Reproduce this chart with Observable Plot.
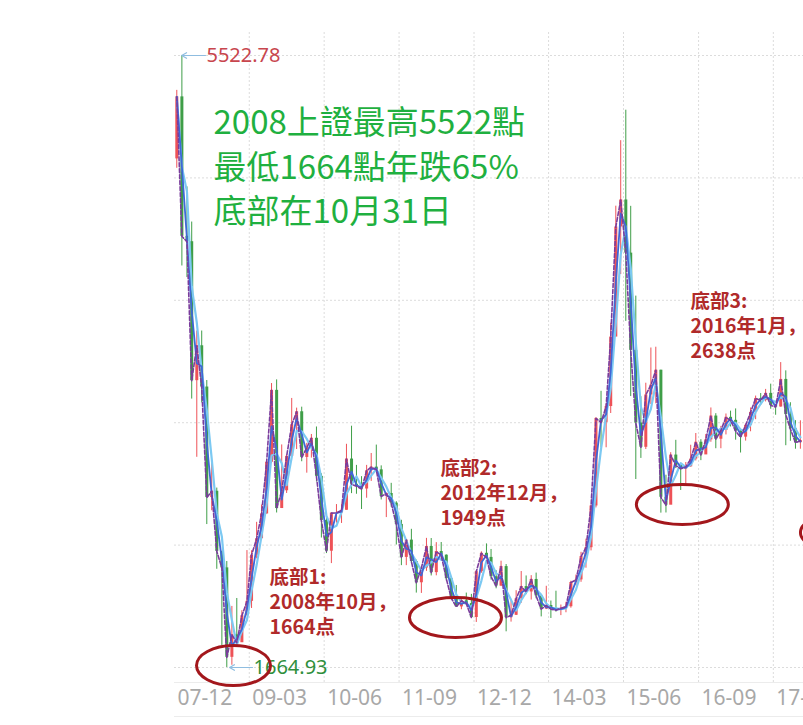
<!DOCTYPE html>
<html>
<head>
<meta charset="utf-8">
<script src="https://cdn.jsdelivr.net/npm/d3@7"></script>
<script src="https://cdn.jsdelivr.net/npm/@observablehq/plot@0.6"></script>
<style>
  html, body { margin: 0; padding: 0; background: #ffffff; }
  #chart { width: 803px; height: 725px; overflow: hidden; }
</style>
</head>
<body>
<div id="chart"></div>
<script>
// ---- Data (Shanghai Composite, monthly) ----
const startMonth = "2007-12";
const firstOpen = 4871;
const closes = [
  5262,
  4383, 4349, 3473, 3693, 3433, 2736, 2776, 2397, 2293, 1729, 1871, 1821,
  1991, 2082, 2373, 2477, 2633, 2959, 3412, 2667, 2779, 2996, 3195, 3277,
  2989, 3051, 3110, 2870, 2592, 2398, 2638, 2639, 2656, 2979, 2820, 2808,
  2790, 2905, 2928, 2911, 2743, 2762, 2701, 2567, 2359, 2468, 2333, 2199,
  2292, 2428, 2263, 2396, 2373, 2225, 2103, 2047, 2086, 2068, 1980, 2269,
  2385, 2359, 2237, 2178, 2301, 1979, 1994, 2098, 2175, 2141, 2220, 2116,
  2033, 2056, 2033, 2026, 2039, 2048, 2201, 2217, 2364, 2420, 2683, 3235,
  3210, 3310, 3748, 4442, 4612, 4277, 3664, 3206, 3053, 3383, 3445, 3539,
  2738, 2688, 3004, 2938, 2917, 2930, 2979, 3085, 3005, 3100, 3250, 3104,
  3159, 3242, 3223, 3155, 3117, 3192, 3273, 3361, 3349, 3393, 3317, 3307,
  3481, 3259, 3169, 3082, 3095
];
const highs = [
  5303,
  5523, 4695, 4473, 3786, 3786, 3474, 2952, 2796, 2397, 2333, 2050, 2100,
  2023, 2402, 2401, 2580, 2689, 2975, 3455, 3478, 3068, 3005, 3361, 3300,
  3306, 3078, 3134, 3181, 2886, 2643, 2638, 2692, 2695, 3072, 3186, 2939,
  2868, 2939, 3014, 3067, 2936, 2764, 2826, 2710, 2593, 2470, 2536, 2342,
  2300, 2479, 2478, 2452, 2453, 2375, 2228, 2182, 2105, 2134, 2126, 2276,
  2394, 2444, 2409, 2275, 2335, 2314, 2093, 2149, 2270, 2242, 2244, 2260,
  2110, 2177, 2084, 2146, 2059, 2076, 2209, 2248, 2391, 2474, 2688, 3240,
  3406, 3324, 3835, 4573, 4986, 5178, 4572, 4006, 3372, 3457, 3679, 3684,
  3539, 2877, 3019, 3097, 2946, 2957, 3066, 3140, 3101, 3134, 3301, 3265,
  3185, 3263, 3281, 3295, 3159, 3200, 3301, 3376, 3392, 3418, 3451, 3316,
  3587, 3535, 3334, 3221, 3220
];
const lows = [
  4812,
  4196, 4123, 3357, 2990, 3333, 2566, 2653, 2284, 1802, 1665, 1679, 1814,
  1845, 1991, 2037, 2350, 2470, 2632, 2950, 2639, 2712, 2762, 2993, 3039,
  2962, 2890, 2985, 2834, 2481, 2383, 2320, 2575, 2573, 2656, 2761, 2757,
  2661, 2732, 2838, 2895, 2721, 2610, 2675, 2437, 2307, 2307, 2319, 2134,
  2132, 2271, 2242, 2243, 2346, 2211, 2100, 2044, 2029, 2058, 1974, 1949,
  2259, 2366, 2216, 2161, 2175, 1890, 1951, 1993, 2070, 2124, 2090, 2098,
  1984, 2030, 1974, 2014, 1992, 2010, 2039, 2180, 2202, 2291, 2400, 2671,
  3050, 3050, 3266, 3750, 4142, 3847, 3373, 2850, 2983, 3039, 3323, 3327,
  2638, 2639, 2733, 2919, 2781, 2807, 2927, 2967, 2969, 3008, 3085, 3044,
  3044, 3131, 3181, 3098, 3017, 3092, 3151, 3227, 3317, 3339, 3293, 3255,
  3306, 3063, 3091, 3041, 3041
];

const tickLabels = ["07-12", "09-03", "10-06", "11-09", "12-12", "14-03", "15-06", "16-09", "17-12"];

const extremeHigh = { date: "2008-01-14", value: 5522.78, label: "5522.78" };
const extremeLow  = { date: "2008-11-01", value: 1664.93, label: "1664.93" };

const titleLines = ["2008上證最高5522點", "最低1664點年跌65%", "底部在10月31日"];

const bottomNotes = [
  { date: "2009-07-03", value: 2085, lines: ["底部1:", "2008年10月，", "1664点"] },
  { date: "2012-05-11", value: 2772, lines: ["底部2:", "2012年12月，", "1949点"] },
  { date: "2016-07-13", value: 3825, lines: ["底部3:", "2016年1月，", "2638点"] }
];

const bottomRings = [
  { date: "2008-11-25", value: 1677, rx: 37 },
  { date: "2012-08-10", value: 1980, rx: 46 },
  { date: "2016-05-25", value: 2692, rx: 46 },
  { date: "2019-02-20", value: 2516, rx: 46 }
];

// ---- Build table ----
const parseMonth = d3.utcParse("%Y-%m");
const parseDay = d3.utcParse("%Y-%m-%d");
const start = parseMonth(startMonth);
const rows = closes.map((c, i) => ({
  date: d3.utcDay.offset(d3.utcMonth.offset(start, i), 14),
  open: i === 0 ? firstOpen : closes[i - 1],
  high: highs[i],
  low: lows[i],
  close: c
}));

const parseTick = d3.utcParse("%y-%m");
const tickDates = tickLabels.map(parseTick);
const labelOf = new Map(tickDates.map((d, i) => [+d, tickLabels[i]]));

const yGrid = d3.range(6).map(i => extremeLow.value + i * (extremeHigh.value - extremeLow.value) / 5);

const RED = "#ee5257", GREEN = "#3f9e48";
const candleColor = d => d.close >= d.open ? RED : GREEN;

const ringSymbol = {
  draw(context, size) {
    const rx = Math.sqrt(size / Math.PI), ry = 20, k = 0.5523;
    context.moveTo(rx, 0);
    context.bezierCurveTo(rx, ry * k, rx * k, ry, 0, ry);
    context.bezierCurveTo(-rx * k, ry, -rx, ry * k, -rx, 0);
    context.bezierCurveTo(-rx, -ry * k, -rx * k, -ry, 0, -ry);
    context.bezierCurveTo(rx * k, -ry, rx, -ry * k, rx, 0);
    context.closePath();
  }
};

const hiDate = parseDay(extremeHigh.date);
const loDate = parseDay(extremeLow.date);
const yMin = 1570.4, yMax = 5667.8;

const chart = Plot.plot({
  width: 803,
  height: 725,
  marginLeft: 174,
  marginRight: 0,
  marginTop: 32,
  marginBottom: 43,
  style: { background: "#ffffff", fontFamily: "'Noto Sans', sans-serif", overflow: "hidden" },
  x: { type: "utc", domain: [parseMonth("2007-12"), parseDay("2018-06-03")] },
  y: { domain: [yMin, yMax], axis: null },
  r: { type: "identity" },
  marks: [
    // grid
    Plot.ruleY(yGrid, { stroke: "#dcdcdc", strokeDasharray: "2,2", strokeWidth: 1 }),
    Plot.ruleX(tickDates.slice(1), { stroke: "#dcdcdc", strokeDasharray: "2,2", strokeWidth: 1 }),
    Plot.ruleY([yMin], { stroke: "#ececec" }),
    Plot.ruleY([yMin], { stroke: "#ececec", dy: 34 }),
    // candles
    Plot.ruleX(rows, { x: "date", y1: "low", y2: "high", stroke: candleColor, strokeWidth: 1 }),
    Plot.ruleX(rows, { x: "date", y1: "open", y2: "close", stroke: candleColor, strokeWidth: 3 }),
    // moving averages
    Plot.lineY(rows, Plot.windowY({ k: 3, anchor: "end" }, { x: "date", y: "close", stroke: "#7cc9f2", strokeWidth: 2.2 })),
    Plot.lineY(rows, Plot.windowY({ k: 2, anchor: "end" }, { x: "date", y: "close", stroke: "#3f67d6", strokeWidth: 1.8 })),
    Plot.lineY(rows, { x: "date", y: "close", stroke: "#7a3c9c", strokeWidth: 1.6, strokeDasharray: "4,2" }),
    // extreme markers
    Plot.arrow([extremeHigh], { x1: d3.utcDay.offset(hiDate, 145), x2: hiDate, y1: "value", y2: "value", stroke: "#8fbde0", strokeWidth: 1.2, headLength: 7, bend: 0 }),
    Plot.text([extremeHigh], { x: d3.utcDay.offset(hiDate, 145), y: "value", text: "label", textAnchor: "start", dx: 1, fill: "#c8464e", fontSize: 20 }),
    Plot.arrow([extremeLow], { x1: d3.utcDay.offset(loDate, 140), x2: loDate, y1: "value", y2: "value", stroke: "#8fbde0", strokeWidth: 1.2, headLength: 7, bend: 0 }),
    Plot.text([extremeLow], { x: d3.utcDay.offset(loDate, 140), y: "value", text: "label", textAnchor: "start", dx: 1, fill: "#2f8f3c", fontSize: 20 }),
    // rings
    Plot.dot(bottomRings, { x: d => parseDay(d.date), y: "value", r: "rx", symbol: ringSymbol, fill: "none", stroke: "#a3171c", strokeWidth: 3 }),
    // notes
    Plot.text(bottomNotes, { x: d => parseDay(d.date), y: "value", text: d => d.lines.join("\n"), textAnchor: "start", lineAnchor: "middle", lineHeight: 1.3, fill: "#b02a2a", fontSize: 19.5, fontWeight: "bold", fontFamily: "'Noto Sans CJK SC', sans-serif" }),
    Plot.text([titleLines.join("\n")], { x: parseDay("2008-07-26"), y: 4838, textAnchor: "start", lineAnchor: "middle", lineHeight: 1.36, fill: "#1fb040", fontSize: 33, fontFamily: "'Noto Sans CJK TC', sans-serif" }),
    // x axis
    Plot.axisX({ ticks: tickDates, tickFormat: d => labelOf.get(+d), tickSize: 0, tickPadding: 8, textAnchor: "start", dx: 3, fontSize: 21, fill: "#a8a8a8", label: null })
  ]
});
document.getElementById("chart").appendChild(chart);
</script>
</body>
</html>
